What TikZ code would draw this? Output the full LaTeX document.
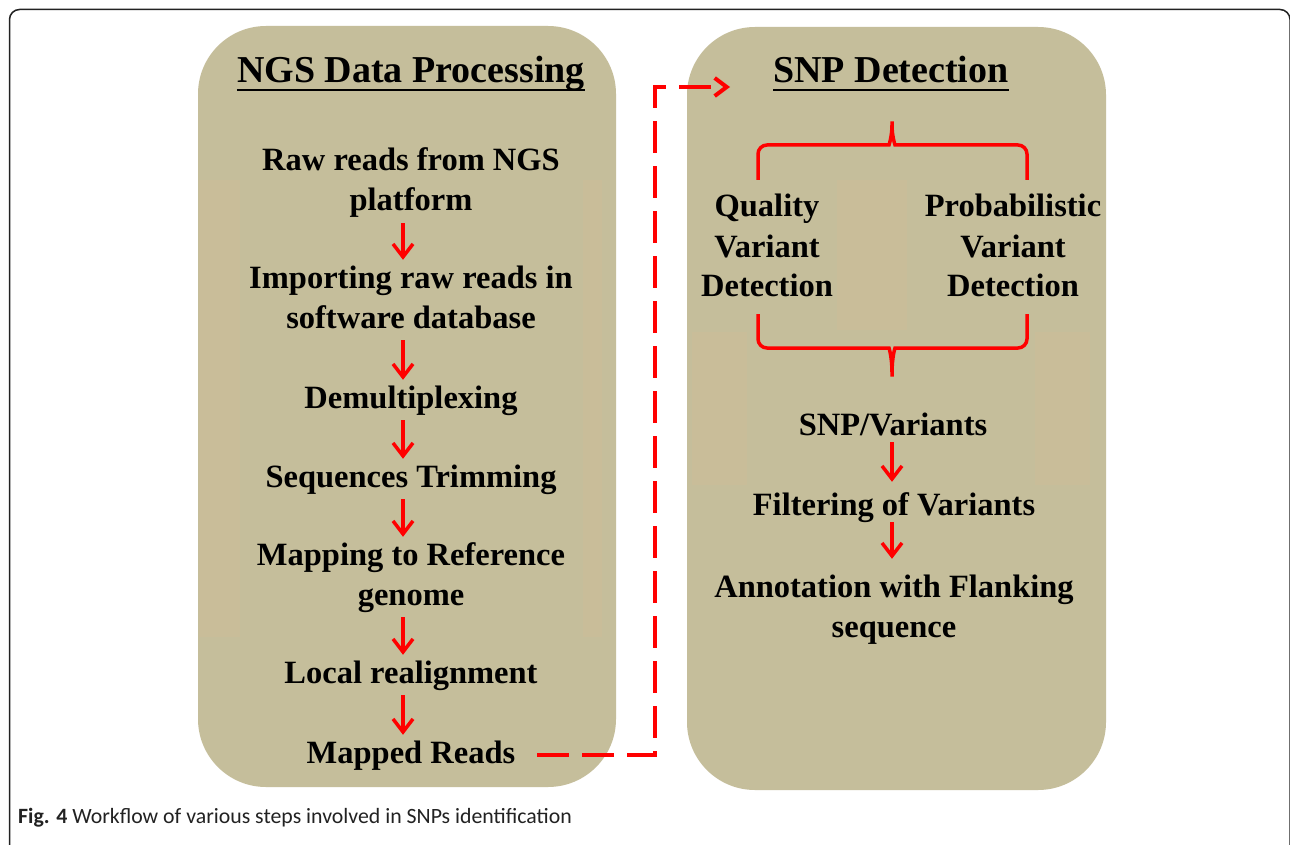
\documentclass[tikz,border=0pt]{standalone}
\usepackage{fontspec}
\setmainfont{Liberation Serif}
\newfontfamily\capfont{Carlito}
\usetikzlibrary{arrows.meta}
\definecolor{panel}{HTML}{C5BE9B}
\definecolor{patch}{HTML}{C9BD99}
\definecolor{framec}{HTML}{222222}
\newcommand{\stk}[1]{\begin{tabular}[t]{@{}c@{}}#1\end{tabular}}
\begin{document}
\begin{tikzpicture}[x=1pt,y=-1pt,
  panelbox/.style={fill=panel, rounded corners=68pt},
  txt/.style={inner sep=0pt, anchor=base, font=\fontsize{32.5}{40}\selectfont\bfseries},
  ttl/.style={inner sep=0pt, anchor=base, font=\fontsize{38}{45}\selectfont\bfseries},
  flow/.style={red, line width=3.5pt, -{Straight Barb[length=13pt,width=20pt]}},
  brace/.style={red, line width=3.5pt, rounded corners=9pt},
  link/.style={red, line width=4pt, dash pattern=on 32pt off 13pt, -{Straight Barb[length=12pt,width=18pt]}},
  uline/.style={line width=2.5pt}
]
\useasboundingbox (0,0) rectangle (1290,845);
\fill[white] (0,0) rectangle (1290,845);
% outer frame
\draw[framec, line width=1.5pt, rounded corners=10pt] (9.5,846) -- (9.5,9.5) -- (1290,9.5) -- (1290,846);
% panels
\fill[panelbox] (198,26) rectangle (616,787);
\fill[panelbox] (687,27) rectangle (1106,790);
% faint patches
\fill[patch] (199,180) rectangle (240,637);
\fill[patch] (583,180) rectangle (602,637);
\fill[patch] (837,180) rectangle (907,330);
\fill[patch] (692,332) rectangle (747,485);
\fill[patch] (1035,332) rectangle (1090,485);
% titles
\node[ttl] (t1) at (411,83) {NGS Data Processing};
\node[ttl] (t2) at (891,83) {SNP Detection};
\draw[uline] ([yshift=-7pt]t1.base west) -- ([yshift=-7pt]t1.base east);
\draw[uline] ([yshift=-7pt]t2.base west) -- ([yshift=-7pt]t2.base east);
% left column
\node[txt] (raw) at (411,171) {\stk{Raw reads from NGS\\platform}};
\node[txt] (imp) at (411,288) {\stk{Importing raw reads in\\software database}};
\node[txt] (dem) at (411,408) {\stk{Demultiplexing}};
\node[txt] (trim) at (411,487) {\stk{Sequences Trimming}};
\node[txt] (map) at (411,565) {\stk{Mapping to Reference\\genome}};
\node[txt] (loc) at (411,683) {\stk{Local realignment}};
\node[txt] (mapped) at (411,763) {\stk{Mapped Reads}};
\draw[flow] ([xshift=-8pt]raw.south) -- ([xshift=-8pt]imp.north);
\draw[flow] ([xshift=-8pt]imp.south) -- ([xshift=-8pt]dem.north);
\draw[flow] ([xshift=-8pt]dem.south) -- ([xshift=-8pt]trim.north);
\draw[flow] ([xshift=-8pt]trim.south) -- ([xshift=-8pt]map.north);
\draw[flow] ([xshift=-8pt]map.south) -- ([xshift=-8pt]loc.north);
\draw[flow] ([xshift=-8pt]loc.south) -- ([xshift=-8pt]mapped.north);
% right column
\node[txt] (qual) at (767,217) {\stk{Quality\\Variant\\Detection}};
\node[txt] (prob) at (1013,217) {\stk{Probabilistic\\Variant\\Detection}};
\node[txt] (snp) at (893,435) {\stk{SNP/Variants}};
\node[txt] (filt) at (894,515) {\stk{Filtering of Variants}};
\node[txt] (ann) at (894,597) {\stk{Annotation with Flanking\\sequence}};
\draw[brace] (758,180) -- (758,145) -- (880,145) .. controls (889,145) and (892,136) .. (892,116) .. controls (892,136) and (895,145) .. (904,145) -- (1027,145) -- (1027,180);
\draw[brace] (758,314) -- (758,348) -- (880,348) .. controls (889,348) and (892,357) .. (892,382) .. controls (892,357) and (895,348) .. (904,348) -- (1027,348) -- (1027,314);
\draw[flow, shorten <=-5pt, shorten >=5pt] ([xshift=-1pt]snp.south) -- ([xshift=-2pt]filt.north);
\draw[flow, shorten <=-5pt, shorten >=10pt] ([xshift=-2pt]filt.south) -- ([xshift=-2pt]ann.north);
% dashed link
\coordinate (dtop) at (655,87);
\coordinate (dtip) at (730,87);
\draw[link] ([xshift=22pt]mapped.east) -| (dtop) -- (dtip);
% caption
\node[anchor=base west, inner sep=0pt, text=framec, font=\capfont\fontsize{21.8}{26}\selectfont] (cap) at (18,823) {\textbf{Fig. 4} Workflow of various steps involved in SNPs identification};
\end{tikzpicture}
\end{document}
